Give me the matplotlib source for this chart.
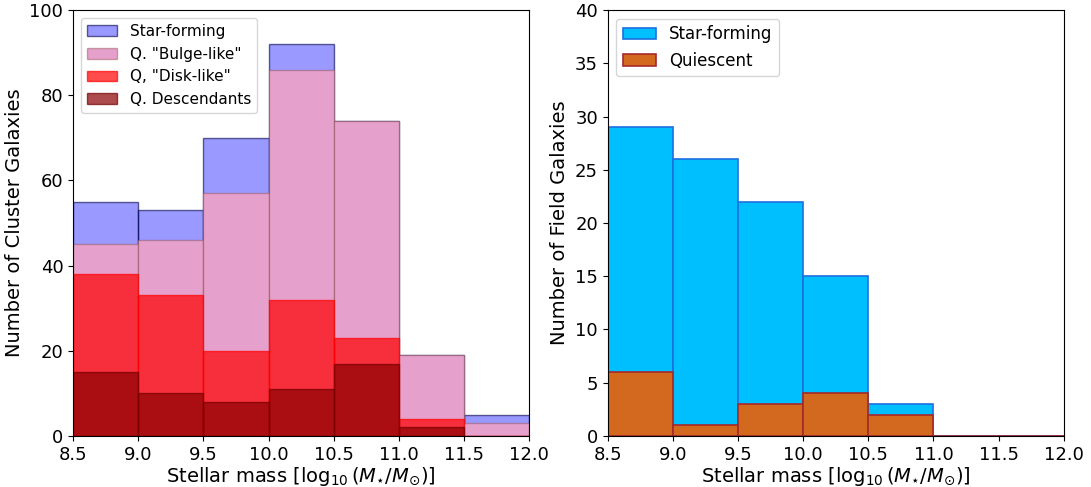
import numpy as np
import matplotlib.pyplot as plt

# bin edges in log10(M*/Msun)
mass_edges = [8.5, 9.0, 9.5, 10.0, 10.5, 11.0, 11.5, 12.0]

# cluster galaxies (left panel), counts per bin
cl_starforming = [55, 53, 70, 92, 74, 19, 5]
cl_bulge = [45, 46, 57, 86, 74, 19, 3]
cl_disk = [38, 33, 20, 32, 23, 4, 0]
cl_desc = [15, 10, 8, 11, 17, 2, 0]

# field galaxies (right panel)
fd_starforming = [29, 26, 22, 15, 3, 0, 0]
fd_quiescent = [6, 1, 3, 4, 2, 0, 0]

xticks = [8.5, 9.0, 9.5, 10.0, 10.5, 11.0, 11.5, 12.0]
xlabel = r'Stellar mass [$\log_{10}(M_{\star}/M_{\odot})$]'

left_edges = np.array(mass_edges[:-1])
widths = np.diff(mass_edges)

fig = plt.figure(figsize=(10.91, 4.87), dpi=100)
ax1 = fig.add_axes([0.067, 0.105, 0.418, 0.874])
ax2 = fig.add_axes([0.557, 0.105, 0.418, 0.874])

# left: overlapping histograms
ax1.bar(left_edges, cl_starforming, widths, align='edge', facecolor=(0, 0, 1, 0.4),
        edgecolor=(0, 0, 0.3, 0.6), linewidth=1, label='Star-forming')
ax1.bar(left_edges, cl_bulge, widths, align='edge', facecolor='#e6a0cc',
        edgecolor=(0.6, 0.35, 0.35, 0.5), linewidth=1, label='Q. "Bulge-like"')
ax1.bar(left_edges, cl_disk, widths, align='edge', facecolor=(1, 0, 0, 0.7),
        edgecolor=(1, 0, 0, 0.7), linewidth=1, label='Q, "Disk-like"')
ax1.bar(left_edges, cl_desc, widths, align='edge', facecolor=(0.545, 0, 0, 0.7),
        edgecolor=(0.45, 0, 0, 0.7), linewidth=1, label='Q. Descendants')
ax1.set_xlim(8.5, 12.0)
ax1.set_ylim(0, 100)
ax1.set_yticks([0, 20, 40, 60, 80, 100])
ax1.set_xticks(xticks)
ax1.set_xlabel(xlabel, fontsize=14, labelpad=1)
ax1.set_ylabel('Number of Cluster Galaxies', fontsize=14)
ax1.tick_params(labelsize=13)
ax1.legend(loc='upper left', fontsize=11)

# right: field galaxies
ax2.bar(left_edges, fd_starforming, widths, align='edge', facecolor='deepskyblue',
        edgecolor='#1e6fe0', linewidth=1.2, label='Star-forming')
ax2.bar(left_edges, fd_quiescent, widths, align='edge', facecolor='chocolate',
        edgecolor='brown', linewidth=1.2, label='Quiescent')
ax2.set_xlim(8.5, 12.0)
ax2.set_ylim(0, 40)
ax2.set_yticks(range(0, 41, 5))
ax2.set_xticks(xticks)
ax2.set_xlabel(xlabel, fontsize=14, labelpad=1)
ax2.set_ylabel('Number of Field Galaxies', fontsize=14)
ax2.tick_params(labelsize=13)
ax2.legend(loc='upper left', fontsize=12)

fig.savefig('out.png', dpi=100)
